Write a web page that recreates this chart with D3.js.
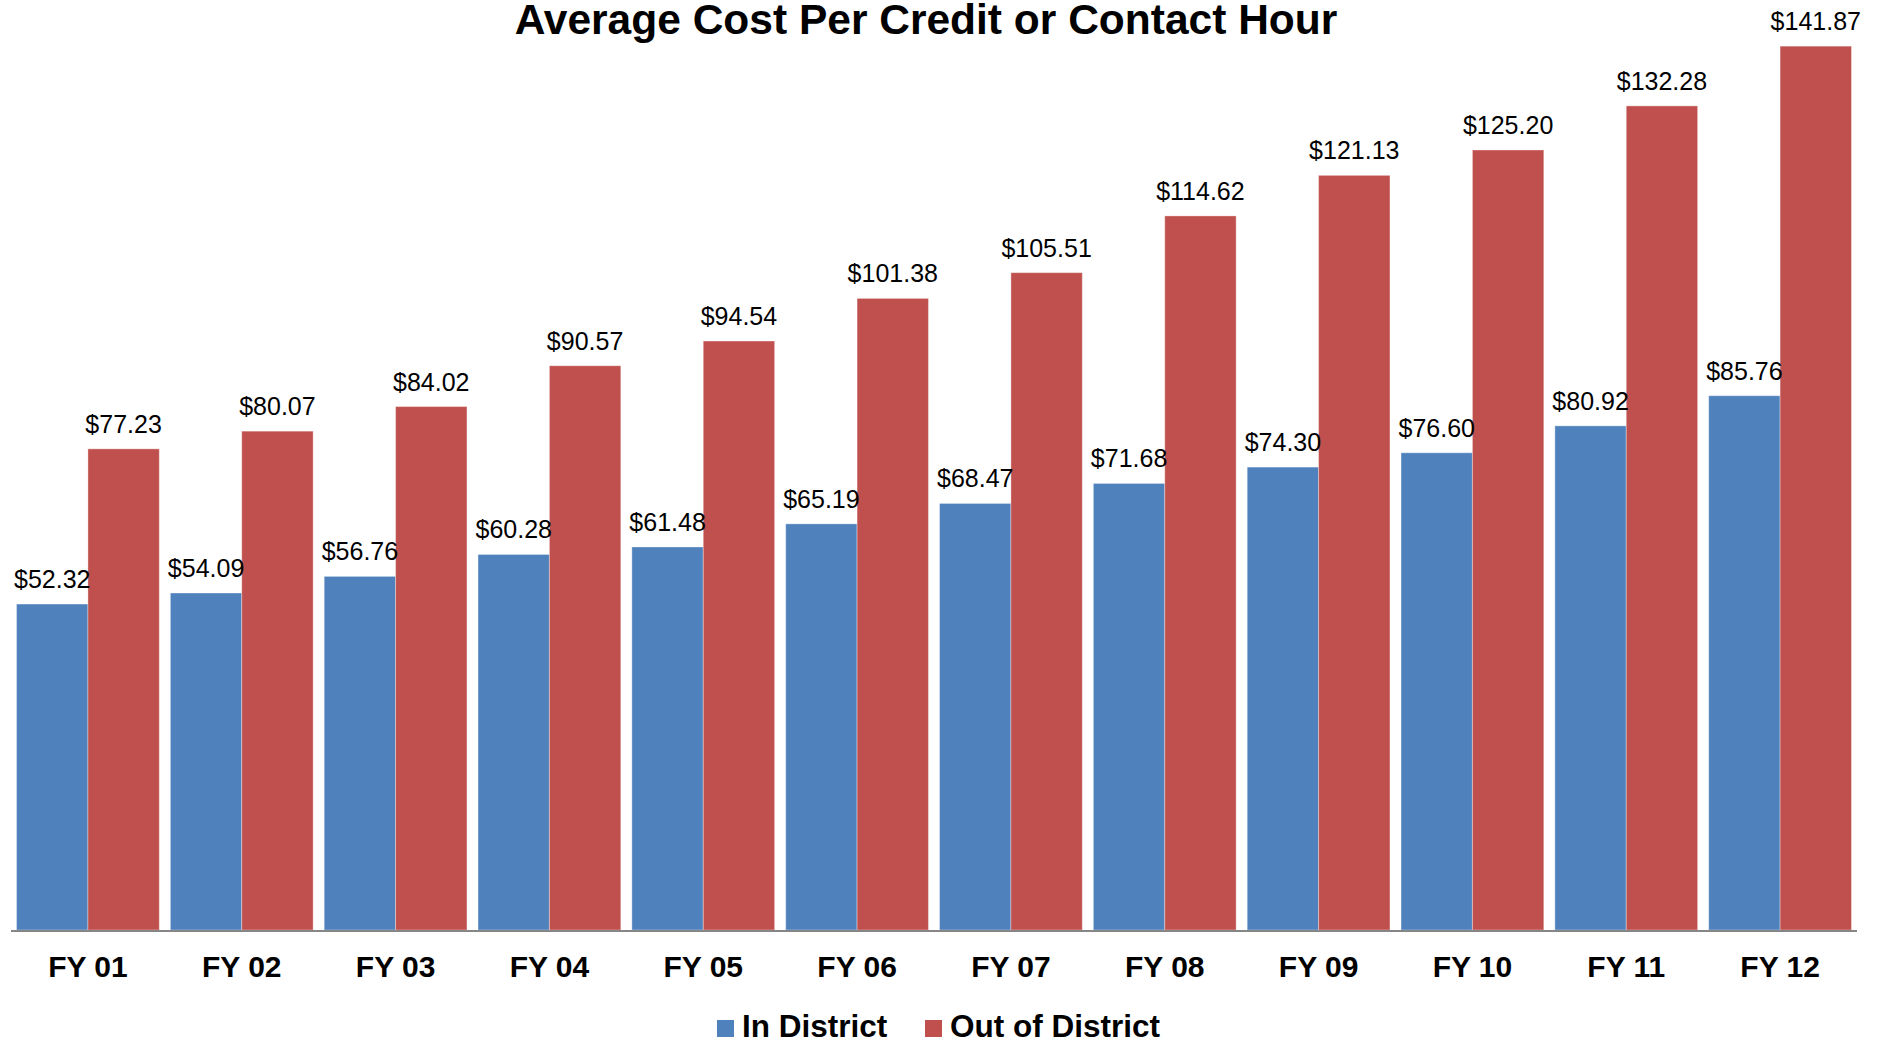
<!DOCTYPE html>
<html>
<head>
<meta charset="utf-8">
<script src="https://cdn.jsdelivr.net/npm/d3@7"></script>
<style>
  body { margin: 0; background: #fff; }
  text { font-family: "Liberation Sans", Arial, sans-serif; fill: #000; }
  .title { font-size: 42.5px; font-weight: bold; }
  .value { font-size: 25px; }
  .cat { font-size: 30px; font-weight: bold; }
  .legend { font-size: 31.5px; font-weight: bold; }
</style>
</head>
<body>
<svg class="chart"></svg>
<script>
var years = ["FY 01", "FY 02", "FY 03", "FY 04", "FY 05", "FY 06",
             "FY 07", "FY 08", "FY 09", "FY 10", "FY 11", "FY 12"];
var seriesNames = ["In District", "Out of District"];
var inDistrict = [52.32, 54.09, 56.76, 60.28, 61.48, 65.19, 68.47, 71.68, 74.30, 76.60, 80.92, 85.76];
var outDistrict = [77.23, 80.07, 84.02, 90.57, 94.54, 101.38, 105.51, 114.62, 121.13, 125.20, 132.28, 141.87];
var colors = ["#4F81BD", "#C0504D"];

var width = 1885,
    height = 1045,
    left = 11,
    right = 1857,
    baseY = 930;

var chart = d3.select(".chart").attr("width", width).attr("height", height);

var x = d3.scaleBand()
  .domain(years)
  .range([left, right])
  .paddingInner(0.072)
  .paddingOuter(0.036);

var xs = d3.scaleBand()
  .domain(seriesNames)
  .range([0, x.bandwidth()]);

var y = d3.scaleLinear()
  .domain([0, 150])
  .range([baseY, baseY - 150 * 6.23]);

var rows = years.map(function(yr, i) {
  return { year: yr, vals: [inDistrict[i], outDistrict[i]] };
});

var groups = chart.selectAll("g.grp")
  .data(rows)
  .enter()
  .append("g")
  .attr("class", "grp")
  .attr("transform", function(d) { return "translate(" + x(d.year) + ",0)"; });

// bars
groups.selectAll("rect")
  .data(function(d) {
    return d.vals.map(function(v, k) { return { name: seriesNames[k], v: v, k: k }; });
  })
  .enter()
  .append("rect")
  .attr("x", function(d) { return xs(d.name); })
  .attr("y", function(d) { return y(d.v); })
  .attr("width", xs.bandwidth())
  .attr("height", function(d) { return y(0) - y(d.v); })
  .attr("fill", function(d) { return colors[d.k]; })
  .attr("stroke", "rgba(255,255,255,0.35)")
  .attr("stroke-width", 1);

// value labels
groups.selectAll("text.value")
  .data(function(d) {
    return d.vals.map(function(v, k) { return { name: seriesNames[k], v: v }; });
  })
  .enter()
  .append("text")
  .attr("class", "value")
  .attr("text-anchor", "middle")
  .attr("x", function(d) { return xs(d.name) + xs.bandwidth() / 2; })
  .attr("y", function(d) { return y(d.v) - 16; })
  .text(function(d) { return "$" + d.v.toFixed(2); });

// axis line
chart.append("line")
  .attr("x1", left)
  .attr("x2", right)
  .attr("y1", baseY + 1)
  .attr("y2", baseY + 1)
  .attr("stroke", "#868686")
  .attr("stroke-width", 2);

// category labels
chart.selectAll("text.cat")
  .data(years)
  .enter()
  .append("text")
  .attr("class", "cat")
  .attr("text-anchor", "middle")
  .attr("x", function(d) { return x(d) + x.bandwidth() / 2; })
  .attr("y", 977)
  .text(function(d) { return d; });

// title
chart.append("text")
  .attr("class", "title")
  .attr("text-anchor", "middle")
  .attr("x", 926)
  .attr("y", 34)
  .text("Average Cost Per Credit or Contact Hour");

// legend
var legendX = [717, 925];
var legend = chart.selectAll("g.legend")
  .data(seriesNames)
  .enter()
  .append("g")
  .attr("transform", function(d, i) { return "translate(" + legendX[i] + ",1020)"; });

legend.append("rect")
  .attr("width", 17)
  .attr("height", 17)
  .attr("fill", function(d, i) { return colors[i]; });

legend.append("text")
  .attr("class", "legend")
  .attr("x", 25)
  .attr("y", 17)
  .text(function(d) { return d; });
</script>
</body>
</html>
